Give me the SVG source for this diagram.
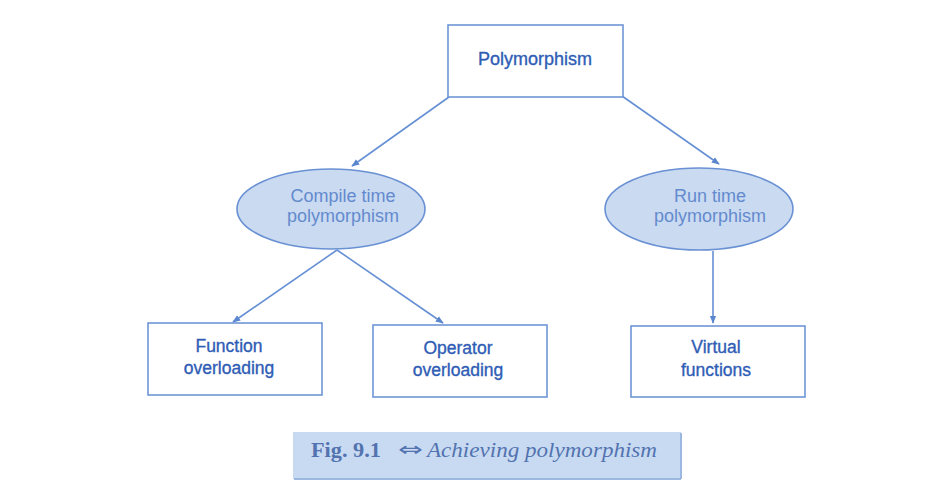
<svg xmlns="http://www.w3.org/2000/svg" width="936" height="485" viewBox="0 0 936 485">
<style>
.box{fill:#ffffff;stroke:#6e95d6;stroke-width:1.6}
.ell{fill:#c9daf1;stroke:#6a91d3;stroke-width:1.6}
.t{font-family:"Liberation Sans",Arial,sans-serif;font-size:17.5px;fill:#2f5db5;stroke:#2f5db5;stroke-width:0.35;text-anchor:middle}
.te{font-family:"Liberation Sans",Arial,sans-serif;font-size:18px;fill:#648ace;text-anchor:middle}
.c{stroke:#6690d4;stroke-width:1.6;fill:none}
.cap{font-family:"Liberation Serif","Times New Roman",serif;font-size:21px;fill:#5273b0}
</style>
<defs>
<marker id="ah" viewBox="0 0 10 10" refX="9" refY="5" markerWidth="8" markerHeight="8" markerUnits="userSpaceOnUse" orient="auto">
<path d="M0,1 L10,5 L0,9 z" fill="#5a86d0"/>
</marker>
</defs>
<rect width="936" height="485" fill="#ffffff"/>
<g id="connectors">
<line class="c" x1="449" y1="97" x2="352" y2="166" marker-end="url(#ah)"/>
<line class="c" x1="622" y1="96" x2="719" y2="164" marker-end="url(#ah)"/>
<line class="c" x1="337" y1="250" x2="233" y2="322" marker-end="url(#ah)"/>
<line class="c" x1="337" y1="250" x2="443" y2="323" marker-end="url(#ah)"/>
<line class="c" x1="713" y1="251" x2="713" y2="323" marker-end="url(#ah)"/>
</g>
<g id="polymorphism">
<rect class="box" x="448" y="25" width="175" height="72"/>
<text class="t" x="535" y="65" style="font-size:18px">Polymorphism</text>
</g>
<g id="compile-time">
<ellipse class="ell" cx="331" cy="209" rx="94" ry="40"/>
<text class="te" x="343" y="202">Compile time</text>
<text class="te" x="343" y="222">polymorphism</text>
</g>
<g id="run-time">
<ellipse class="ell" cx="699" cy="209" rx="94" ry="41"/>
<text class="te" x="710" y="202">Run time</text>
<text class="te" x="710" y="222">polymorphism</text>
</g>
<g id="function-overloading">
<rect class="box" x="148" y="323" width="174" height="72"/>
<text class="t" x="229" y="352">Function</text>
<text class="t" x="229" y="374">overloading</text>
</g>
<g id="operator-overloading">
<rect class="box" x="373" y="325" width="174" height="72"/>
<text class="t" x="458" y="354">Operator</text>
<text class="t" x="458" y="376">overloading</text>
</g>
<g id="virtual-functions">
<rect class="box" x="631" y="326" width="174" height="71"/>
<text class="t" x="716" y="353">Virtual</text>
<text class="t" x="716" y="376">functions</text>
</g>
<g id="caption">
<rect x="293" y="432" width="388" height="47" fill="#c8daf1"/>
<line x1="681" y1="433" x2="681" y2="479" stroke="#9db8e0" stroke-width="2"/>
<line x1="294" y1="479" x2="681" y2="479" stroke="#9db8e0" stroke-width="2"/>
<text class="cap" x="311" y="457" font-weight="bold" textLength="70" lengthAdjust="spacingAndGlyphs">Fig. 9.1</text>
<text class="cap" x="398" y="456" style="font-family:'DejaVu Sans',sans-serif;font-size:20px" textLength="25" lengthAdjust="spacingAndGlyphs">⇔</text>
<text class="cap" x="427" y="457" font-style="italic" textLength="230" lengthAdjust="spacingAndGlyphs">Achieving polymorphism</text>
</g>
</svg>
